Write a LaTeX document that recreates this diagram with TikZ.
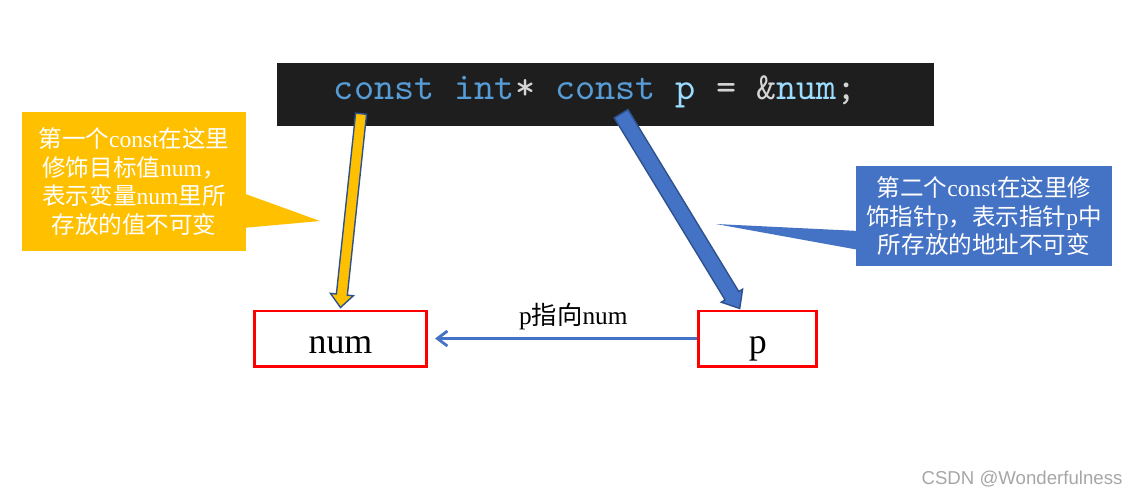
\documentclass[tikz,border=0pt]{standalone}
\usepackage{fontspec}
\setmainfont{Liberation Serif}
\setsansfont{Liberation Sans}
\newfontfamily\zhfont{Noto Sans CJK SC}
\usetikzlibrary{calc,arrows.meta,positioning}

\definecolor{codebg}{HTML}{1E1E1E}
\definecolor{kwblue}{HTML}{569CD6}
\definecolor{varblue}{HTML}{9CDCFE}
\definecolor{opgray}{HTML}{D4D4D4}
\definecolor{noteyellow}{HTML}{FFC000}
\definecolor{noteblue}{HTML}{4472C4}
\definecolor{edgeblue}{HTML}{2F528F}
\definecolor{markgray}{HTML}{A6A6A6}

% fat arrow: style, from, to, half shaft, half head, head length
\newcommand{\fatarrow}[6]{%
  \path ($(#3)!#6!(#2)$) coordinate (fa-h);
  \filldraw[#1] ($(#2)!#4!90:(#3)$) -- ($(fa-h)!#4!90:(#3)$) -- ($(fa-h)!#5!90:(#3)$)
    -- (#3) -- ($(fa-h)!#5!-90:(#3)$) -- ($(fa-h)!#4!-90:(#3)$) -- ($(#2)!#4!-90:(#3)$) -- cycle;}

\begin{document}
\begin{tikzpicture}[x=0.01cm, y=-0.01cm,
  codebox/.style={fill=codebg, inner sep=0pt, minimum width=6.57cm, minimum height=0.63cm},
  codetext/.style={font=\ttfamily\fontsize{10.9}{12}\selectfont, inner sep=0pt},
  note/.style={inner sep=0pt, text=white, align=center, font=\fontsize{6.7}{8.1}\selectfont},
  valbox/.style={draw=red, line width=0.85pt, minimum height=0.55cm, inner sep=0pt,
    text height=0.29cm, text depth=0cm, font=\fontsize{10.2}{12}\selectfont},
  link/.style={draw=noteblue, line width=0.8pt, -{Straight Barb[length=0.1cm, width=0.15cm]}}
]
\useasboundingbox (0,0) rectangle (1138,496);

% the code line
\node[codebox] (code) at (605.5,94.5) {};
\node[codetext] (codeline) at (595.5,92) {\textcolor{kwblue}{const} \textcolor{kwblue}{int}\textcolor{opgray}{*} \textcolor{kwblue}{const} \textcolor{varblue}{p} \textcolor{opgray}{=} \textcolor{opgray}{\&}\textcolor{varblue}{num}\textcolor{opgray}{;}};

% the two variables
\node[valbox, minimum width=1.72cm] (num) at (340.5,338.5) {num};
\node[valbox, minimum width=1.18cm, right=2.69cm of num] (p) {p};
\draw[link, shorten >=0.07cm] (p.west) -- (num.east)
  node[pos=0.46, above, inner sep=2pt, font=\fontsize{7.2}{8}\selectfont] (plabel) {p{\zhfont 指向}num};

% notes
\node[note, fill=noteyellow, minimum width=2.24cm, minimum height=1.39cm] (ynote) at (134,181.5)
  {{\zhfont 第一个}const{\zhfont 在这里}\\{\zhfont 修饰目标值}num{\zhfont ，}\\{\zhfont 表示变量}num{\zhfont 里所}\\{\zhfont 存放的值不可变}};
\coordinate (ytip) at (320,221);
\fill[noteyellow] (ytip) -- ($(ynote.east |- 0,193)+(-4,0)$) -- ($(ynote.east |- 0,228)+(-4,0)$) -- cycle;

\node[note, fill=noteblue, minimum width=2.56cm, minimum height=1.0cm] (bnote) at (984,216)
  {{\zhfont 第二个}const{\zhfont 在这里修}\\{\zhfont 饰指针}p{\zhfont ，表示指针}p{\zhfont 中}\\{\zhfont 所存放的地址不可变}};
\coordinate (btip) at (716,224);
\fill[noteblue] (btip) -- ($(bnote.west |- 0,231)+(4,0)$) -- ($(bnote.west |- 0,250)+(4,0)$) -- cycle;

% fat arrows from the code down to the boxes
\coordinate (yfrom) at ($(code.south west)+(85,-13)$);
\coordinate (yto) at ($(num.north)+(0,-2)$);
\fatarrow{fill=noteyellow, draw=edgeblue, line width=0.4pt}{yfrom}{yto}{0.055cm}{0.115cm}{0.13cm}
\coordinate (bfrom) at ($(code.south west)+(345,-13)$);
\coordinate (bto) at ($(p.north)+(-18,-1)$);
\fatarrow{fill=noteblue, draw=edgeblue, line width=0.4pt}{bfrom}{bto}{0.08cm}{0.125cm}{0.15cm}

\node[font=\sffamily\fontsize{5.3}{6}\selectfont, text=markgray] (mark) at (1022,479) {CSDN @Wonderfulness};
\end{tikzpicture}
\end{document}
